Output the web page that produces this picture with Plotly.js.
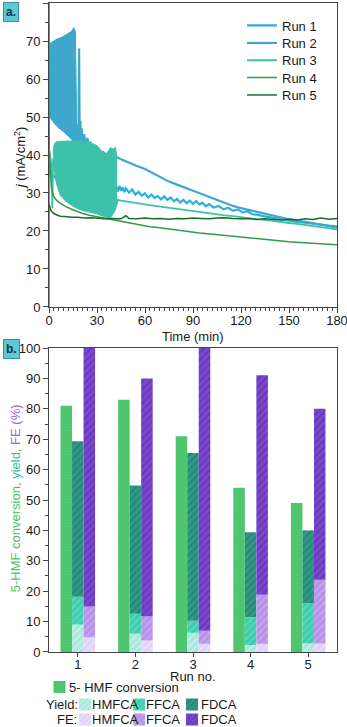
<!DOCTYPE html>
<html>
<head>
<meta charset="utf-8">
<script src="https://cdn.plot.ly/plotly-3.0.1.min.js"></script>
<style>
  html, body { margin: 0; padding: 0; background: #fff; }
  #chart { width: 347px; height: 727px; }
</style>
</head>
<body>
<div id="chart"></div>
<script>
// ---- panel a: chronoamperometry, j vs time ----
var run1T = [0.3, 1, 2, 4, 7, 10, 15, 20, 25, 30, 35, 40, 42, 43, 44, 45, 46, 47, 48,
  50, 52, 54, 56, 58, 60, 62, 64, 66, 68, 70, 72, 74, 76, 78, 80, 82, 84, 86, 88, 90, 92, 94, 96, 98, 100,
  103, 106, 109, 112, 115, 118, 121, 124, 127, 130, 134, 138, 142, 146, 150, 155, 160, 165, 170, 175, 180];
var run1J = [40, 37, 35, 34, 33.5, 33, 32.5, 32.2, 32, 31.8, 31.5, 31.3, 31.6, 30.4, 31.9, 30.6, 31.5, 30.2, 31.2,
  30.1, 30.9, 29.6, 30.3, 29.3, 29.9, 28.8, 29.6, 28.7, 29.2, 28.3, 29.1, 28.2, 28.8, 27.8, 28.4, 27.5, 28.2, 27.3, 28.0, 27.1, 27.9, 27.0, 27.4, 26.5, 27.1,
  26.2, 26.6, 25.7, 26.1, 25.3, 25.7, 24.9, 25.2, 24.4, 24.3, 23.9, 23.6, 23.3, 23.0, 22.8, 22.4, 22.2, 21.9, 21.6, 21.4, 21.2];

// run 2: oscillating band at the start, then a single trace
var run2BandT = [0.3, 1, 3, 5, 8, 10, 12, 14, 15.5, 16.5, 17.2];
var run2BandHi = [68, 69.5, 70, 70.5, 71, 71.5, 72, 72.5, 73.5, 72.5, 52];
var run2BandLo = [50, 49.5, 48.5, 47.5, 46.5, 45.8, 45, 44.2, 43.6, 43, 42];
var run2T = [17.2, 17.6, 18, 18.5, 18.8, 19.2, 19.6, 20, 20.5, 21, 22, 23, 24, 25, 26, 27, 28,
  30, 32, 34, 36, 38, 40, 42, 45, 50, 55, 60, 65, 70, 75, 80, 85, 90, 95, 100, 105, 110, 115, 120,
  125, 130, 135, 140, 145, 150, 155, 160, 165, 170, 175, 180];
var run2J = [45, 48, 42, 46, 68, 43, 49, 44, 47, 42.5, 45.5, 42, 44.5, 41.8, 43.5, 41.5, 42.5,
  41.3, 40.5, 40.8, 39.8, 40.2, 39.6, 39.5, 38.9, 37.9, 37.1, 36.3, 35.2, 34.1, 33.0, 32.2, 31.3, 30.6, 29.8, 29.0, 28.1, 27.3, 26.6, 26.0,
  25.5, 24.9, 24.4, 23.9, 23.5, 23.1, 22.8, 22.4, 22.0, 21.7, 21.3, 20.9];

// run 3: oscillating band 3-42 min
var run3BandT = [2.6, 3, 4, 5, 7, 10, 15, 20, 25, 30, 33, 35, 37, 38.5, 40, 41.5, 42.3];
var run3BandHi = [40, 42.5, 43.3, 43.5, 43.6, 43.7, 43.7, 43.5, 43.3, 42.5, 41, 40, 41, 42, 41.5, 42, 40];
var run3BandLo = [39, 37, 34, 32, 29.5, 28, 26.5, 25.5, 25, 24.5, 24, 23.7, 23.5, 23.5, 24.5, 25.5, 27];
var run3T = [0.3, 1, 1.6, 2.1, 2.6, 42.3, 43, 45, 50, 55, 60, 65, 70, 75, 80, 85, 90, 95, 100, 105,
  110, 115, 120, 125, 130, 135, 140, 145, 150, 155, 160, 165, 170, 175, 180];
var run3J = [41, 39, 37, 26, 39, 27, 28.2, 28, 27.6, 27.3, 27, 26.7, 26.4, 26.1, 25.8, 25.5, 25.3, 25.0, 24.7, 24.4,
  24.1, 23.9, 23.6, 23.3, 23.1, 22.9, 22.6, 22.4, 22.1, 21.9, 21.6, 21.3, 21.0, 20.7, 20.4];

var run4T = [0, 0.05, 0.15, 0.5, 1, 1.5, 2.5, 4, 6, 8, 11, 15, 21, 26, 32, 37, 42, 47, 52, 58,
  63, 68, 73, 80, 87, 94, 101, 108, 115, 122, 129, 136, 143, 150, 157, 164, 172, 180];
var run4J = [0, 80, 42, 38, 34, 31.5, 29.5, 28.4, 27.6, 27, 26.3, 25.6, 24.6, 24.1, 23.6, 23.2, 22.8, 22.4, 21.9, 21.5,
  21.1, 20.9, 20.6, 20.2, 19.8, 19.5, 19.2, 18.9, 18.6, 18.3, 18, 17.7, 17.4, 17.2, 17, 16.8, 16.6, 16.4];

var run5T = [0.2, 0.6, 1, 2, 3, 5, 7, 10, 14, 18, 22, 26, 30, 35, 40, 45, 48,
  50, 55, 60, 65, 70, 75, 80, 85, 90, 95, 100, 105, 110, 115, 120, 125, 130, 135, 140, 145, 150, 155, 160, 165, 170, 175, 180];
var run5J = [27, 26, 25.5, 25, 24.6, 24.2, 23.9, 23.8, 23.6, 23.6, 23.4, 23.5, 23.3, 23.2, 23.3, 23.2, 24.0,
  23.3, 23.2, 23.4, 23.2, 23.3, 23.1, 23.3, 23.2, 23.4, 23.3, 23.2, 23.4, 23.5, 23.3, 23.2, 23.3, 23.0, 23.2, 23.1, 22.9, 23.1, 22.9, 23.2, 23.0, 23.4, 23.1, 23.3];

// ---- panel b: conversion, yield and FE per run ----
var runNo = [1, 2, 3, 4, 5];
var conversion = [81, 83, 71, 54, 49];
var yieldHMFCA = [9, 6, 6.3, 2.3, 2.8];
var yieldFFCA = [9.2, 6.6, 4, 9.1, 13.2];
var yieldFDCA = [51.1, 42.2, 55.2, 28, 24];
var feHMFCA = [4.8, 3.8, 2.7, 2.7, 2.8];
var feFFCA = [10.2, 8, 4.3, 16.1, 21];
var feFDCA = [85, 78.2, 93, 72.2, 56.2];

var FONT = 'Liberation Sans, Arial, sans-serif';
var TXT = '#1a1a1a';
var c1 = '#2bb0de', c2 = '#3fa7cc', c3 = '#3dc1ab', c4 = '#2f9c4c', c5 = '#1d6b2c';

// pixel -> paper helpers (plot area: x 49..337, y 2.7..651.7)
function PX(px) { return (px - 49) / 288; }
function PY(py) { return (651.7 - py) / 649; }

function band(t, hi, lo, color) {
  return {
    x: t.concat(t.slice().reverse()),
    y: hi.concat(lo.slice().reverse()),
    type: 'scatter', mode: 'lines', fill: 'toself', fillcolor: color,
    line: {color: color, width: 1}, showlegend: false, hoverinfo: 'skip',
    xaxis: 'x', yaxis: 'y'
  };
}
function runLine(t, j, name, color, w, lg) {
  return {x: t, y: j, type: 'scatter', mode: 'lines', name: name,
    line: {color: color, width: w}, xaxis: 'x', yaxis: 'y', legend: lg};
}
function addArr(a, b) { return a.map(function(v, i) { return v + b[i]; }); }
var zero = runNo.map(function() { return 0; });

function bar(vals, base, off, bg, fg, lg) {
  return {
    x: runNo, y: vals, base: base, type: 'bar', name: '',
    offset: off, width: 0.2, xaxis: 'x2', yaxis: 'y2', legend: lg,
    marker: {color: bg, line: {width: 0},
      pattern: {shape: '/', bgcolor: bg, fgcolor: fg, size: 5, solidity: 0.3, fillmode: 'overlay'}}
  };
}

var yBase3 = addArr(yieldHMFCA, yieldFFCA);
var fBase3 = addArr(feHMFCA, feFFCA);

var data = [
  runLine(run1T, run1J, 'Run 1', c1, 2.2, 'legend'),
  band(run2BandT, run2BandHi, run2BandLo, c2),
  runLine(run2T, run2J, 'Run 2', c2, 2.2, 'legend2'),
  runLine(run3T, run3J, 'Run 3', c3, 1.8, 'legend3'),
  band(run3BandT, run3BandHi, run3BandLo, c3),
  runLine(run4T, run4J, 'Run 4', c4, 1.5, 'legend4'),
  runLine(run5T, run5J, 'Run 5', c5, 1.5, 'legend5'),
  {
    x: runNo, y: conversion, type: 'bar', name: '', offset: -0.3, width: 0.2,
    xaxis: 'x2', yaxis: 'y2', legend: 'legend6',
    marker: {color: '#4cc46b', line: {width: 0},
      pattern: {shape: '.', bgcolor: '#4cc46b', fgcolor: '#5ccf79', size: 3, solidity: 0.3, fillmode: 'overlay'}}
  },
  bar(yieldHMFCA, zero, -0.1, '#a9e9db', '#e6faf5', 'legend7'),
  bar(yieldFFCA, yieldHMFCA, -0.1, '#3ccdae', '#86e3cf', 'legend8'),
  bar(yieldFDCA, yBase3, -0.1, '#2f9886', '#1e6b5e', 'legend9'),
  bar(feHMFCA, zero, 0.1, '#e2d2f7', '#f6efff', 'legend10'),
  bar(feFFCA, feHMFCA, 0.1, '#b792ea', '#d5bef4', 'legend11'),
  bar(feFDCA, fBase3, 0.1, '#7b46cf', '#4c2595', 'legend12')
];

var axisCommon = {
  showline: true, linecolor: '#444', linewidth: 1, mirror: true,
  ticks: 'outside', ticklen: 5, tickcolor: '#444', showgrid: false, zeroline: false,
  tickfont: {family: FONT, size: 13, color: TXT}
};
function ax(extra) { return Object.assign({}, axisCommon, extra); }

// one legend per entry so each row sits where the reference puts it
function legendAt(x, y) {
  return {xref: 'container', yref: 'container', x: x / 347, y: 1 - y / 727,
    xanchor: 'left', yanchor: 'middle', bgcolor: 'rgba(0,0,0,0)', borderwidth: 0,
    font: {family: FONT, size: 13, color: TXT}, itemwidth: 30};
}
function label(text, px, py, anchor, angle) {
  return {text: text, xref: 'paper', yref: 'paper', x: PX(px), y: PY(py), showarrow: false,
    xanchor: anchor, yanchor: 'middle', borderpad: 0, textangle: angle || 0,
    font: {family: FONT, size: 13, color: TXT}};
}
function panelTag(text, py) {
  return {text: '<b>' + text + '</b>', xref: 'paper', yref: 'paper', x: PX(11), y: PY(py),
    xanchor: 'center', yanchor: 'middle', showarrow: false,
    bgcolor: '#5cc9d4', bordercolor: '#37909b', borderwidth: 1, borderpad: 2,
    font: {family: FONT, size: 12, color: '#14324a'}};
}

var rowConv = 687, rowYield = 704.5, rowFE = 719.5;
var swH = 85, swF = 139, swD = 192;

var layout = {
  width: 347, height: 727,
  margin: {l: 49, r: 10, t: 3, b: 75, autoexpand: false},
  paper_bgcolor: '#fff', plot_bgcolor: '#fff',
  font: {family: FONT, size: 13, color: TXT},
  barmode: 'overlay',
  showlegend: true,
  xaxis: ax({range: [0, 180], dtick: 30, anchor: 'y', ticklabeloverflow: 'allow', ticklabelstandoff: -4,
    minor: {dtick: 3, ticks: 'outside', ticklen: 3, tickcolor: '#444'}}),
  yaxis: ax({range: [0, 80], dtick: 10, domain: [0.5316, 1], anchor: 'x',
    minor: {dtick: 5, ticks: 'outside', ticklen: 3, tickcolor: '#444'}}),
  xaxis2: ax({range: [0.5, 5.5], dtick: 1, anchor: 'y2', ticklen: 4, ticklabelstandoff: -4}),
  yaxis2: ax({range: [0, 100], dtick: 10, domain: [0, 0.4684], anchor: 'x2',
    minor: {dtick: 5, ticks: 'outside', ticklen: 3, tickcolor: '#444'}}),
  legend: legendAt(242, 25.5),
  legend2: legendAt(242, 43),
  legend3: legendAt(242, 60.3),
  legend4: legendAt(242, 77.6),
  legend5: legendAt(242, 95),
  legend6: legendAt(59.5 - 20, rowConv),
  legend7: legendAt(swH - 20, rowYield),
  legend8: legendAt(swF - 20, rowYield),
  legend9: legendAt(swD - 20, rowYield),
  legend10: legendAt(swH - 20, rowFE),
  legend11: legendAt(swF - 20, rowFE),
  legend12: legendAt(swD - 20, rowFE),
  annotations: [
    panelTag('a.', 11.5),
    panelTag('b.', 348.5),
    // axis titles
    label('Time (min)', 193, 336.5, 'center'),
    label('<i>j</i> (mA/cm<sup>2</sup>)', 20, 158, 'center', -90),
    label('<span style="color:#4cc46b">5-HMF conversion,</span> <span style="color:#35c2a5">yield,</span> <span style="color:#9a68e0">FE (%)</span>',
      15, 498, 'center', -90),
    label('Run no.', 193, 676, 'center'),
    // legend texts for panel b
    label('5- HMF conversion', 68, rowConv, 'left'),
    label('Yield:', 79, rowYield, 'right'),
    label('HMFCA', 91, rowYield, 'left'),
    label('FFCA', 144.5, rowYield, 'left'),
    label('FDCA', 199.5, rowYield, 'left'),
    label('FE:', 78, rowFE, 'right'),
    label('HMFCA', 91, rowFE, 'left'),
    label('FFCA', 144.5, rowFE, 'left'),
    label('FDCA', 199.5, rowFE, 'left')
  ]
};

Plotly.newPlot('chart', data, layout, {displayModeBar: false, staticPlot: true});
</script>
</body>
</html>
